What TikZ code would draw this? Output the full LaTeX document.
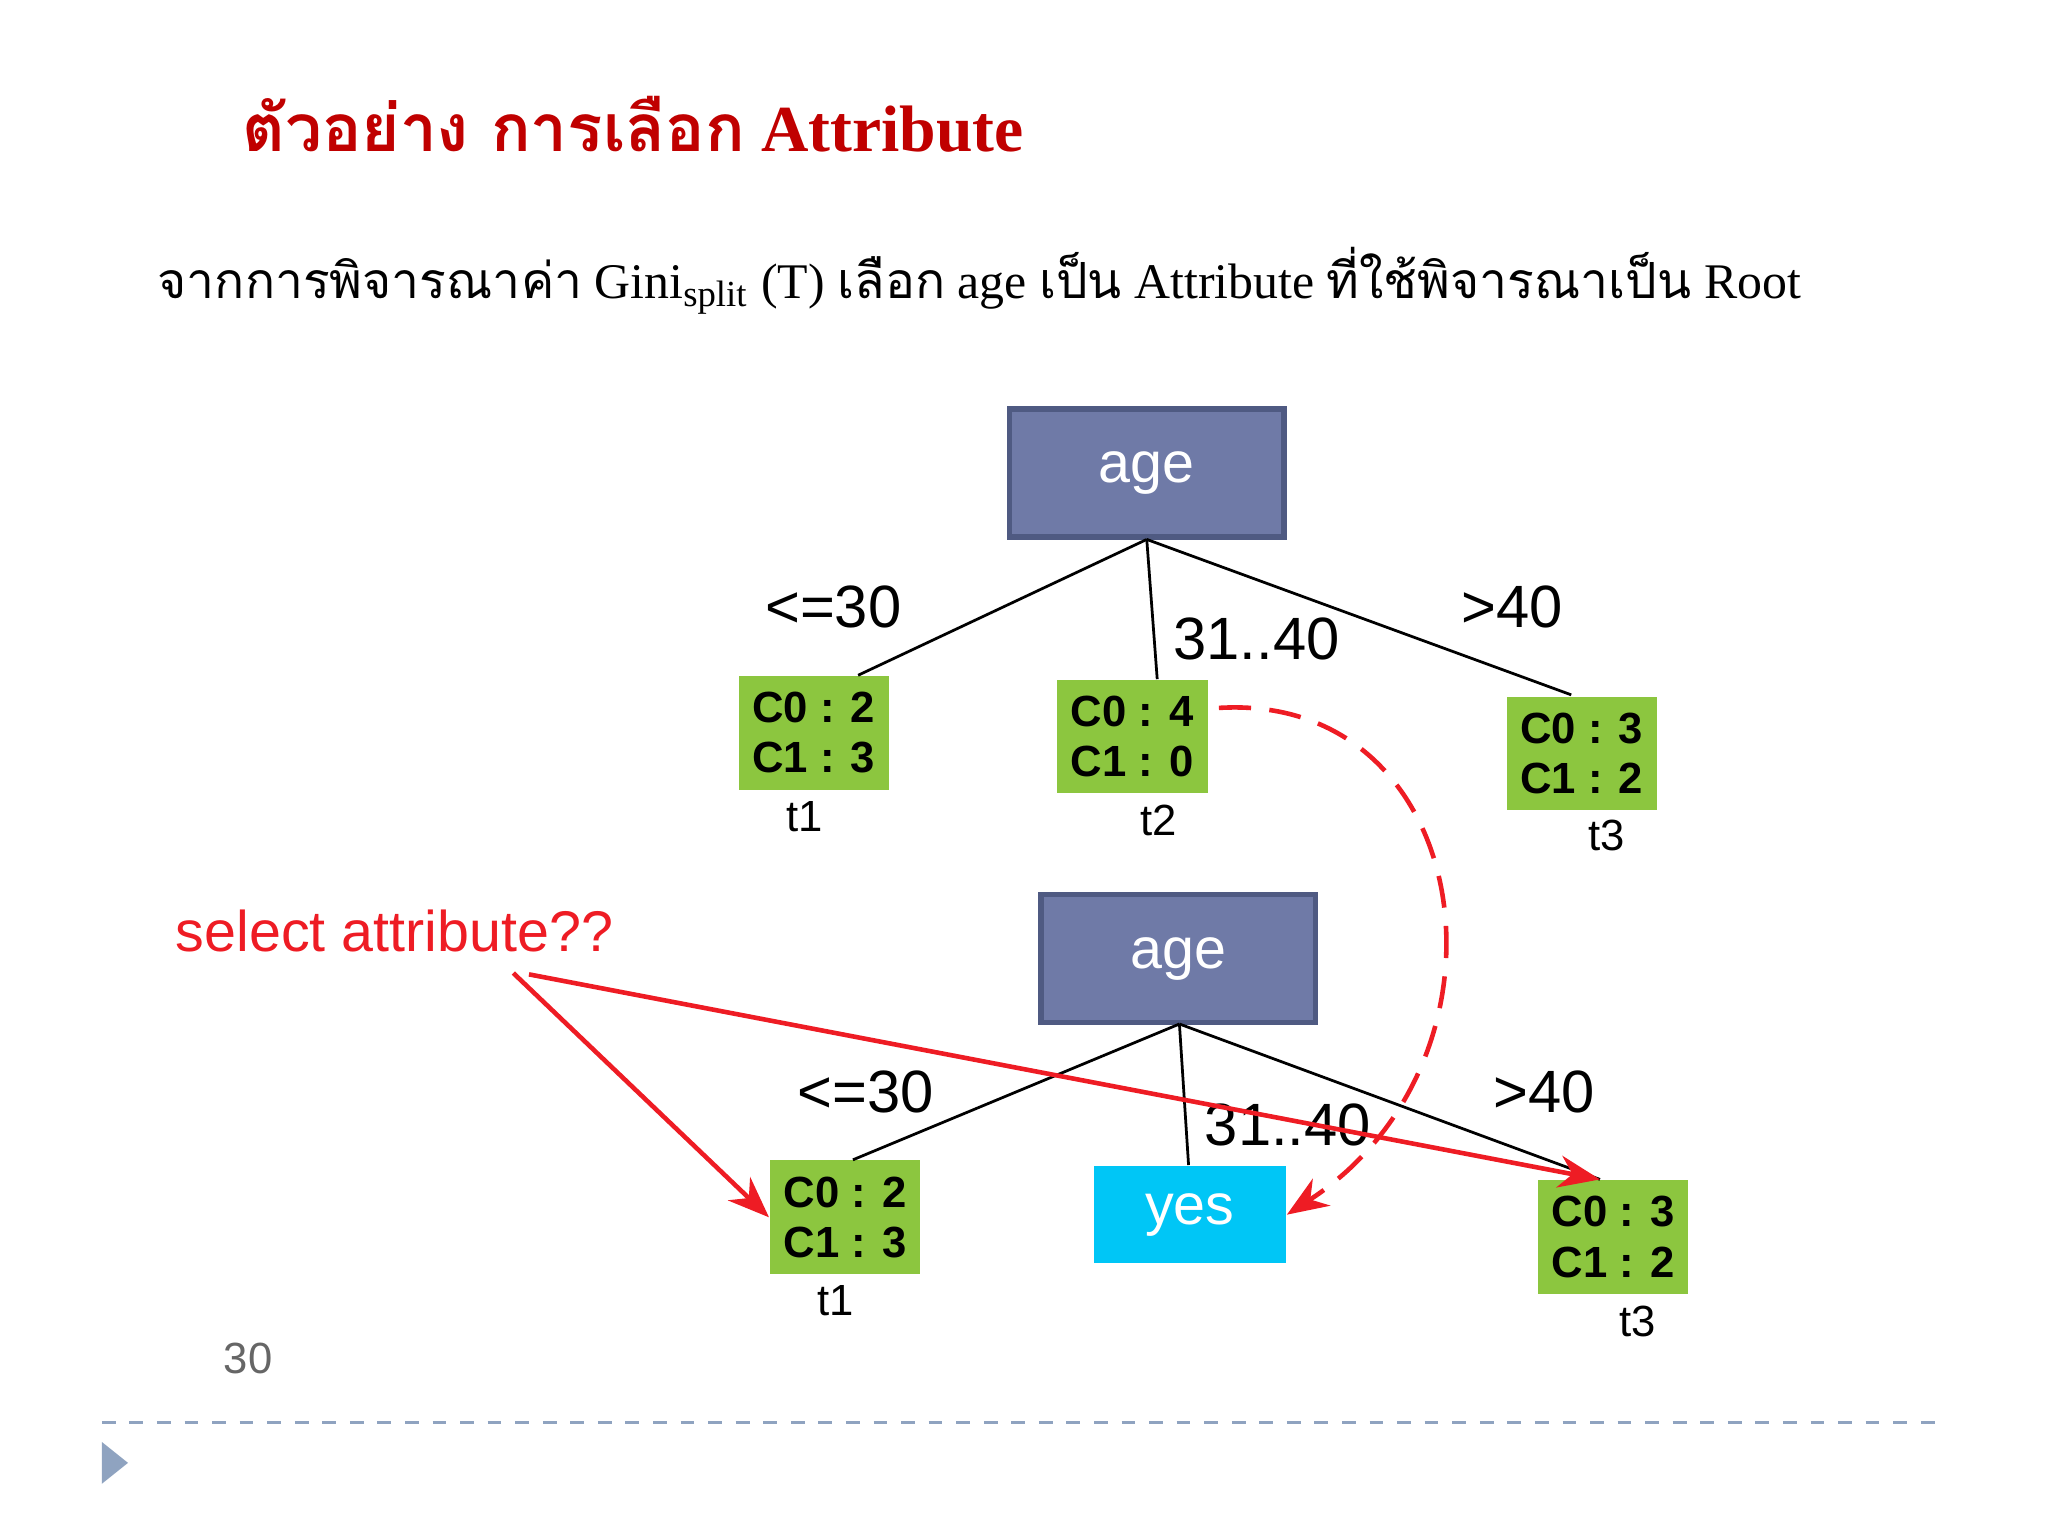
\documentclass[tikz,border=0pt]{standalone}
\usepackage{fontspec}
\setmainfont{Liberation Serif}
\setsansfont{Liberation Sans}
\newfontfamily\thai[Script=Thai]{Loma}
\usetikzlibrary{arrows.meta}
\definecolor{ttl}{HTML}{C00000}
\definecolor{boxb}{HTML}{6F7AA7}
\definecolor{boxd}{HTML}{4F5A82}
\definecolor{grn}{HTML}{8CC63F}
\definecolor{cyn}{HTML}{00C6F6}
\definecolor{rd}{HTML}{EE1C24}
\definecolor{gb}{HTML}{8FA3C0}
\tikzset{
 agebox/.style={draw=boxd,line width=1.2pt,fill=boxb,minimum width=2.1cm,minimum height=0.98cm,text=white,font=\sffamily\fontsize{12.5}{14}\selectfont},
 cbox/.style={fill=grn,minimum width=1.15cm,minimum height=0.87cm,font=\sffamily\bfseries\fontsize{9.5}{11}\selectfont,align=center,inner sep=0pt},
 lbl/.style={font=\sffamily\fontsize{13}{15}\selectfont},
 tl/.style={font=\sffamily\fontsize{9.5}{11}\selectfont},
 edge/.style={line width=0.6pt},
 rarr/.style={draw=rd,line width=1pt,-{Stealth[length=9pt,width=7pt]}}
}
\begin{document}
\begin{tikzpicture}[x=0.01cm,y=-0.01cm]
\useasboundingbox (0,0) rectangle (1568,1176);
\node[text=ttl,anchor=west,inner sep=0pt] (title) at (185,95) {\fontsize{14.3}{17}\selectfont\bfseries{\thai ตัวอย่าง การเลือก} Attribute};
\node[anchor=west,inner sep=0pt] (sub) at (120,215) {\fontsize{10.85}{12}\selectfont{\thai จากการพิจารณาค่า} Gini$_{\mbox{\fontsize{8}{8}\selectfont split}}$ (T) {\thai เลือก} age {\thai เป็น} Attribute {\thai ที่ใช้พิจารณาเป็น} Root};
% tree 1
\node[agebox] (a1) at (878,362) {age};
\node[cbox] (c1) at (623,561) {C0 : 2\\C1 : 3};
\node[cbox] (c2) at (867,564) {C0 : 4\\C1 : 0};
\node[cbox] (c3) at (1211,577) {C0 : 3\\C1 : 2};
\coordinate (a1b) at (878,413);
\draw[edge] (a1b) -- (657,517);
\draw[edge] (a1b) -- (886,520);
\draw[edge] (a1b) -- (1203,532);
\node[lbl] (l1) at (638,465) {<=30};
\node[lbl] (l2) at (962,489) {31..40};
\node[lbl] (l3) at (1158,465) {>40};
\node[tl] (t1) at (616,625) {t1};
\node[tl] (t2) at (887,628) {t2};
\node[tl] (t3) at (1230,640) {t3};
% tree 2
\node[agebox] (a2) at (902,734) {age};
\node[cbox] (d1) at (647,932) {C0 : 2\\C1 : 3};
\node[fill=cyn,minimum width=1.47cm,minimum height=0.74cm,text=white,font=\sffamily\fontsize{12.5}{14}\selectfont] (yes) at (911,930) {yes};
\node[cbox] (d3) at (1235,947) {C0 : 3\\C1 : 2};
\coordinate (a2b) at (903,784);
\draw[edge] (a2b) -- (653,888);
\draw[edge] (a2b) -- (910,892);
\draw[edge] (a2b) -- (1225,903);
\node[lbl] (m1) at (663,836) {<=30};
\node[lbl] (m2) at (986,861) {31..40};
\node[lbl] (m3) at (1182,836) {>40};
\node[tl] (u1) at (640,996) {t1};
\node[tl] (u3) at (1254,1012) {t3};
% red
\node[text=rd,font=\sffamily\fontsize{12.5}{14}\selectfont] (sel) at (302,713) {select attribute??};
\coordinate (s1) at (393,745);
\coordinate (s2) at (405,746);
\draw[rarr] (s1) -- (d1.west);
\draw[rarr] (s2) -- (1225,903);
\draw[rarr,dashed,dash pattern=on 7pt off 4pt] (c2.east) ++(8,-22) .. controls (1130,530) and (1170,810) .. (yes.east);
% footer
\node[text=gray!80!black,font=\sffamily\fontsize{9.5}{11}\selectfont] (pg) at (190,1040) {30};
\draw[gb,dashed,line width=0.6pt] (78,1089) -- (1490,1089);
\fill[gb] (78,1104) -- (98,1120) -- (78,1136) -- cycle;
\end{tikzpicture}
\end{document}
